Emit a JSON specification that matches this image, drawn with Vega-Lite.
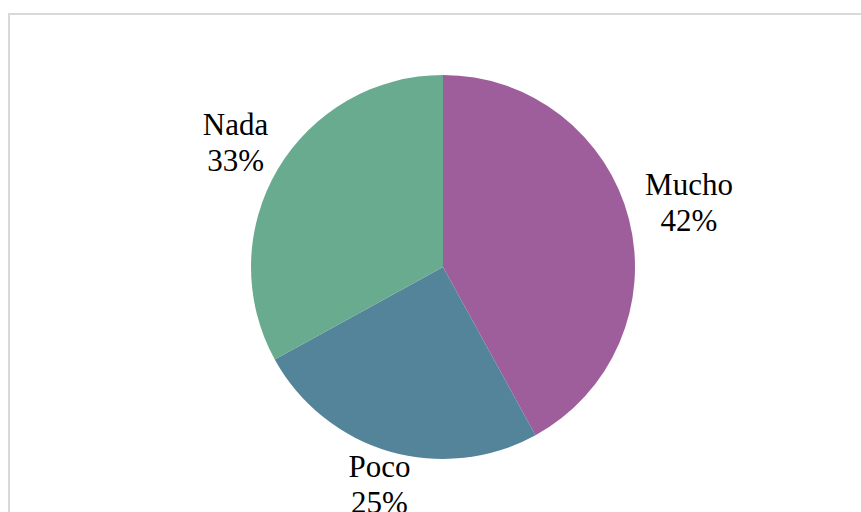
{
  "$schema": "https://vega.github.io/schema/vega-lite/v6.json",
  "width": 868,
  "height": 506,
  "autosize": "none",
  "padding": {"left": 9, "top": 14, "right": -16, "bottom": -8},
  "background": "white",
  "view": {"stroke": "#D9D9D9", "strokeWidth": 2, "fill": "white"},
  "data": {
    "values": [
      {"label": "Mucho", "pct": 42, "text": "Mucho\n42%", "order": 1},
      {"label": "Poco", "pct": 25, "text": "Poco\n25%", "order": 2},
      {"label": "Nada", "pct": 33, "text": "Nada\n33%", "order": 3}
    ]
  },
  "transform": [
    {"stack": "pct", "groupby": [], "sort": [{"field": "order", "order": "ascending"}], "as": ["s0", "s1"]},
    {"calculate": "(datum.s0 + datum.s1) / 2", "as": "mid"}
  ],
  "layer": [
    {
      "mark": {"type": "arc", "outerRadius": 192, "stroke": null},
      "encoding": {
        "theta": {"field": "s0", "type": "quantitative", "scale": {"domain": [0, 100]}},
        "theta2": {"field": "s1"},
        "color": {
          "field": "label",
          "type": "nominal",
          "scale": {"domain": ["Mucho", "Poco", "Nada"], "range": ["#9E5E9B", "#548499", "#69AB8F"]},
          "legend": null
        }
      }
    },
    {
      "mark": {"type": "text", "font": "Liberation Serif", "fontSize": 31, "lineBreak": "\n", "lineHeight": 36, "fill": "#000000", "align": "center", "baseline": "middle", "dy": -18},
      "encoding": {
        "theta": {"field": "mid", "type": "quantitative", "scale": {"domain": [0, 100]}},
        "text": {"field": "text", "type": "nominal"},
        "radius": {
          "field": "label",
          "type": "nominal",
          "scale": {"type": "point", "domain": ["Poco", "Nada", "Mucho"], "range": [228, 254], "padding": 0}
        }
      }
    }
  ]
}
